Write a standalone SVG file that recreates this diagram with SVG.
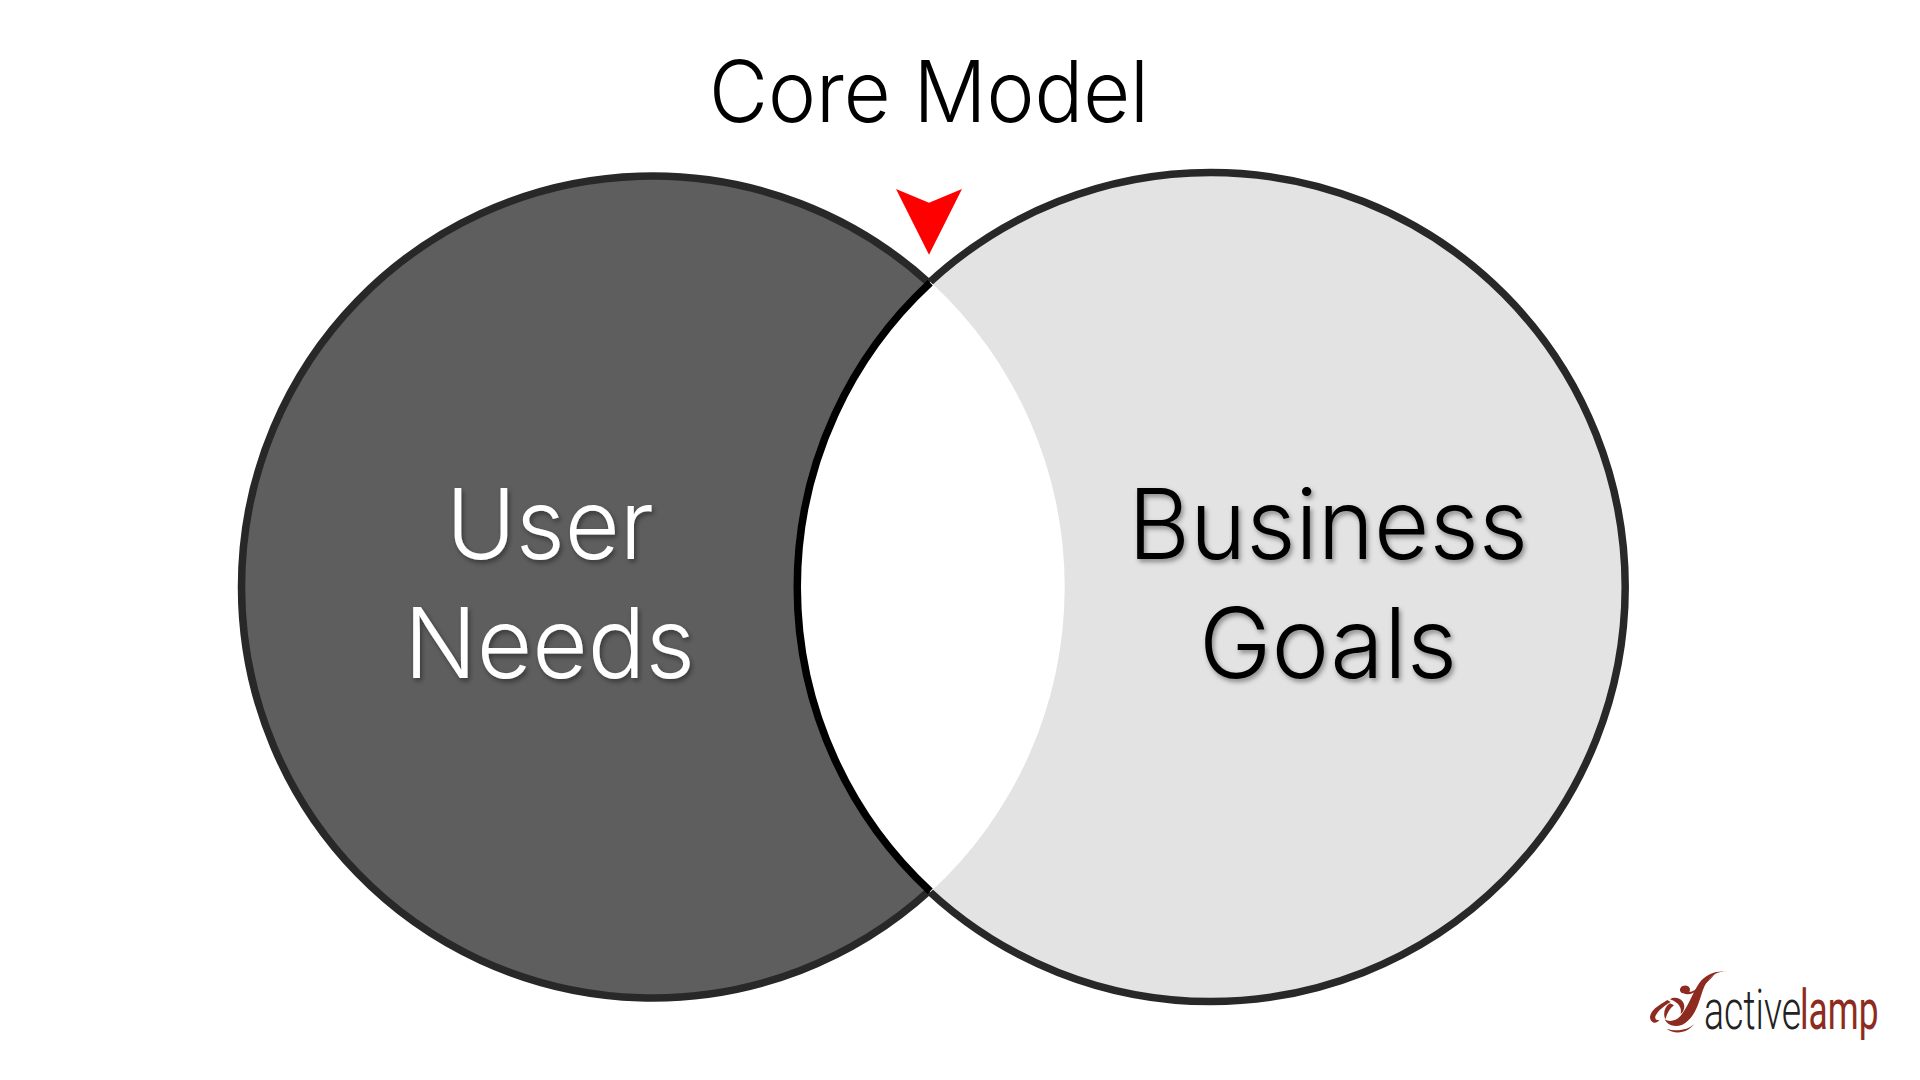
<svg xmlns="http://www.w3.org/2000/svg" width="1920" height="1080" viewBox="0 0 1920 1080">
<defs>
<style>
.t{font-family:Inter,"Helvetica Neue","Liberation Sans",sans-serif;font-weight:300}
.big{font-size:98px}
.ring{stroke:#282828;stroke-width:7.5;fill:none}
.logo{fill:#8e2b20}
.lg{font-family:Roboto,"Liberation Sans",sans-serif;font-size:56px}
</style>
<filter id="sh" x="-10%" y="-20%" width="125%" height="140%"><feDropShadow dx="2" dy="3" stdDeviation="2.5" flood-color="#000" flood-opacity="0.4"/></filter>
</defs>
<rect width="1920" height="1080" fill="#fff"/>
<g id="business-goals">
<circle class="ring" cx="1210.7" cy="587" r="414.5" style="fill:#e3e3e3"/>
</g>
<g id="user-needs">
<circle cx="651.5" cy="587" r="411" fill="#5e5e5e"/>
<path class="ring" d="M929 282.9A411 411 0 1 0 929 891.1"/>
</g>
<g id="core-overlap">
<path fill="#fff" d="M930.2 281.8A413.5 413.5 0 0 1 930.2 892.2A414.5 414.5 0 0 1 930.2 281.8Z"/>
<path fill="none" stroke="#000" stroke-width="7.5" d="M930.2 891.2A414.5 414.5 0 0 1 930.2 282.8"/>
</g>
<g id="labels">
<text id="core-label" class="t" x="709" y="122" font-size="85" fill="#000" textLength="440" lengthAdjust="spacingAndGlyphs">Core Model</text>
<g filter="url(#sh)" fill="#fff">
<text class="t big" x="446" y="559" textLength="208" lengthAdjust="spacingAndGlyphs">User</text>
<text class="t big" x="404" y="677.5" textLength="291" lengthAdjust="spacingAndGlyphs">Needs</text>
</g>
<g filter="url(#sh)" fill="#000">
<text class="t big" x="1128" y="559" textLength="400" lengthAdjust="spacingAndGlyphs">Business</text>
<text class="t big" x="1199" y="677.5" textLength="258" lengthAdjust="spacingAndGlyphs">Goals</text>
</g>
</g>
<g id="marker"><polygon points="896,189 929,202.7 962,189 929,254.7" fill="#f00"/></g>
<g id="logo">
<g transform="translate(1620 950) scale(.33333)" class="logo">
<path d="M320 66C285 62 262 85 248 122C234 165 224 205 187 224C165 233 142 226 134 208C150 218 172 212 186 192C210 160 224 112 245 90C265 70 295 60 320 66Z"/>
<path d="M190 130C215 142 245 116 285 72C250 98 228 124 208 126C216 112 200 102 188 108C176 114 178 128 190 130Z"/>
<path d="M150 148C165 138 190 145 193 168C193 180 188 188 182 192C186 175 178 158 150 148Z"/>
<path d="M142 150C112 168 94 180 90 200C90 216 106 226 118 210C108 212 102 205 108 195C116 180 135 166 152 156Z"/>
<path d="M150 160C134 170 128 190 136 208C142 190 148 176 162 166Z"/>
<path d="M140 236C165 256 205 248 222 222C205 240 170 246 140 236Z"/>
</g>
<text class="lg" transform="translate(1704 1029) scale(.67 1)" font-weight="300" fill="#222">active</text>
<text class="lg logo" transform="translate(1800 1029) scale(.63 1)" font-weight="400">lamp</text>
</g>
</svg>
